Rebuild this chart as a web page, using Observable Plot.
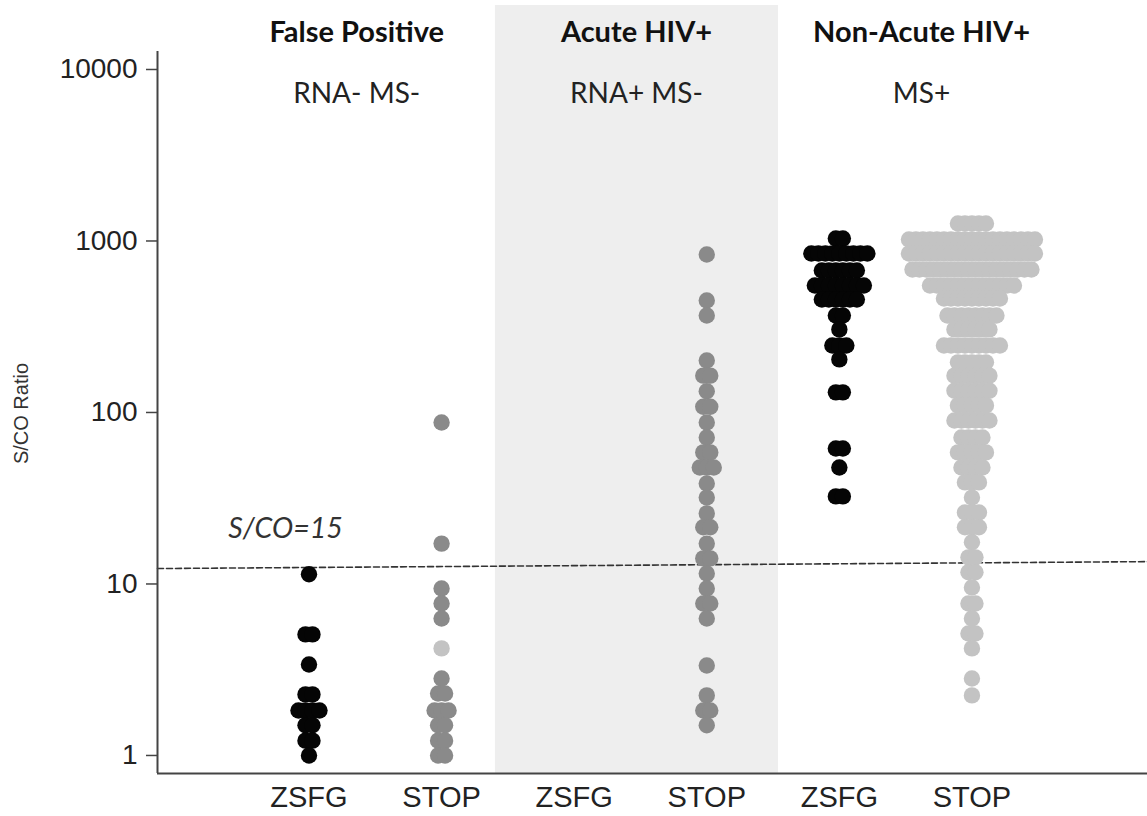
<!DOCTYPE html>
<html><head><meta charset="utf-8">
<script src="https://cdn.jsdelivr.net/npm/d3@7"></script>
<script src="https://cdn.jsdelivr.net/npm/@observablehq/plot@0.6"></script>
<style>body{margin:0;background:#fff} #chart svg{display:block}</style>
</head><body><div id="chart"></div>
<script>
// ---- data ----
const columnLabels = ["ZSFG", "STOP", "ZSFG", "STOP", "ZSFG", "STOP"];
const groupTitles = ["False Positive", "Acute HIV+", "Non-Acute HIV+"];
const groupSubtitles = ["RNA- MS-", "RNA+ MS-", "MS+"];
const yTicks = [1, 10, 100, 1000, 10000];
const thresholdLabel = "S/CO=15";
const thresholdEnds = [12.3, 13.5]; // dashed line as drawn (left end, right end)

// rows of the dot swarms: [S/CO value, number of dots in that row]
const fpZSFG = [[11.4,1],[5.08,2],[3.39,1],[2.27,2],[1.83,4],[1.50,2],[1.22,2],[1.0,1]];
const fpSTOP = [[87.4,1],[17.2,1],[9.41,1],[7.70,1],[6.29,1],[2.81,1],[2.30,2],[1.83,3],[1.50,2],[1.22,2],[1.0,2]];
const fpSTOPlight = [[4.21,1]];
const acuteZSFG = [];
const acuteSTOP = [[834,1],[450,1],[368,1],[201,1],[164,2],[133,1],[108,2],[87.4,1],[71.5,1],[58.5,2],[47.8,3],[38.5,1],[31.9,1],[25.8,1],[21.4,2],[17.2,1],[14.1,2],[11.5,1],[9.41,1],[7.70,2],[6.29,1],[3.35,1],[2.24,1],[1.83,2],[1.50,1]];
const nonAcuteZSFG = [[1034,2],[846,9],[673,6],[550,8],[456,6],[368,2],[305,1],[246,3],[204,1],[131,2],[61.7,2],[47.8,1],[32.4,2]];
const nonAcuteSTOP = [[1265,5],[1020,19],[846,19],[682,18],[550,13],[462,9],[368,8],[305,6],[246,9],[196,5],[164,6],[134,6],[110,5],[89.8,6],[71.5,4],[58.5,5],[47.8,4],[39.1,3],[31.9,1],[26.1,3],[21.4,3],[17.5,1],[14.3,2],[11.7,2],[9.54,1],[7.70,2],[6.29,1],[5.14,2],[4.21,1],[2.81,1],[2.24,1]];

// ---- layout / style ----
const W = 1147, H = 816;
const xDomain = [-1.1425, 6.324];
const yDomain = [0.785, 23610];
const axisTop = 12735;
const shadeX = [1.406, 3.541];
const dotStep = 7 / 132.6;
const titleX = [0.36, 2.47, 4.62];
const labelX = -0.177, labelY = 21.07;
const titleY = 16330, subtitleY = 7197;
const BLACK = "#050505", GRAY = "#8a8a8a", LIGHT = "#c3c3c3";

const series = [
  {rows: fpZSFG, col: 0, fill: BLACK},
  {rows: fpSTOP, col: 1, fill: GRAY},
  {rows: fpSTOPlight, col: 1, fill: LIGHT},
  {rows: acuteZSFG, col: 2, fill: BLACK},
  {rows: acuteSTOP, col: 3, fill: GRAY},
  {rows: nonAcuteZSFG, col: 4, fill: BLACK},
  {rows: nonAcuteSTOP, col: 5, fill: LIGHT}
];
const dots = [];
for (const s of series) {
  for (const [v, n] of s.rows) {
    for (let k = 0; k < n; k++) {
      dots.push({x: s.col + (k - (n - 1) / 2) * dotStep, y: v, fill: s.fill});
    }
  }
}
const titles = groupTitles.map((t, i) => ({t, x: titleX[i]}));
const subtitles = groupSubtitles.map((t, i) => ({t, x: titleX[i]}));
const threshold = [{x: xDomain[0], y: thresholdEnds[0]}, {x: xDomain[1], y: thresholdEnds[1]}];

const chart = Plot.plot({
  width: W, height: H,
  marginLeft: 157, marginRight: 0, marginTop: 5, marginBottom: 43,
  style: {fontFamily: "'Liberation Sans', Arial, sans-serif", background: "#fff", color: "#222"},
  x: {type: "linear", domain: xDomain, axis: null},
  y: {type: "log", domain: yDomain, axis: null},
  marks: [
    Plot.rect([0], {x1: shadeX[0], x2: shadeX[1], y1: yDomain[0], y2: yDomain[1], fill: "#eeeeee"}),
    Plot.line(threshold, {x: "x", y: "y", stroke: "#333", strokeWidth: 1.6, strokeDasharray: "6,3"}),
    Plot.dot(dots, {x: "x", y: "y", r: 8.2, fill: d => d.fill, stroke: null}),
    Plot.ruleX([xDomain[0]], {y1: yDomain[0], y2: axisTop, stroke: "#444", strokeWidth: 2}),
    Plot.ruleY([yDomain[0]], {x1: xDomain[0], x2: xDomain[1], stroke: "#444", strokeWidth: 2}),
    Plot.axisY({ticks: yTicks, tickFormat: d => String(d), tickSize: 11, tickPadding: 9, fontSize: 28, label: null, stroke: "#444", strokeWidth: 1.5}),
    Plot.axisX({ticks: [0,1,2,3,4,5], tickFormat: i => columnLabels[i], tickSize: 0, tickPadding: 13, fontSize: 29, label: null}),
    Plot.text(["S/CO Ratio"], {frameAnchor: "left", textAnchor: "middle", dx: -136, dy: 24, rotate: -90, fontSize: 20, fill: "#333"}),
    Plot.text(titles, {x: "x", y: titleY, text: "t", fontFamily: "Lato", fontWeight: "bold", fontSize: 29, fill: "#111"}),
    Plot.text(subtitles, {x: "x", y: subtitleY, text: "t", fontFamily: "Lato", fontSize: 28, fill: "#222"}),
    Plot.text([thresholdLabel], {x: labelX, y: labelY, fontFamily: "Lato", fontStyle: "italic", fontSize: 28.5, fill: "#333"})
  ]
});
document.getElementById("chart").appendChild(chart);
</script>
</body></html>
